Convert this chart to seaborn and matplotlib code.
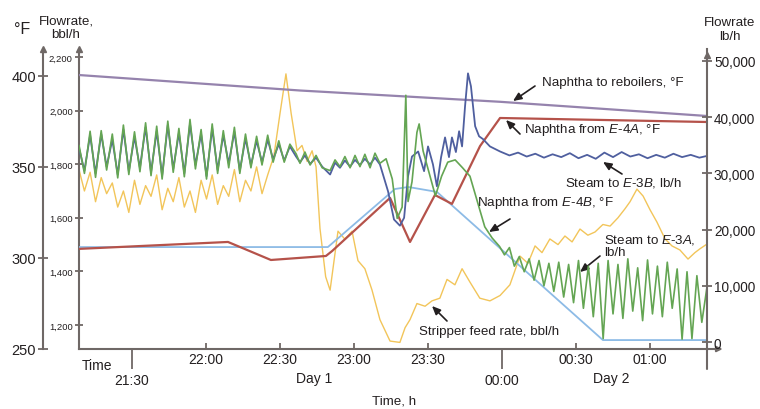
import matplotlib
matplotlib.use('Agg')
import matplotlib.pyplot as plt
import matplotlib.transforms as mtransforms
import seaborn as sns
import pandas as pd

# ---------------- data (time in minutes after 21:00) ----------------
reb_t = [8.5, 98.1, 179.2, 263.1]
reb_F = [400.5, 392.0, 385.8, 378.0]

e4a_t = [8.5, 68.9, 86.3, 108.6, 111.1, 134.6, 142.7, 152.8, 159.7, 171.1, 179.2, 263.1]
e4a_F = [305.0, 308.8, 298.9, 301.1, 303.8, 333.0, 308.8, 334.6, 329.7, 361.5, 376.9, 374.7]

e4b_t = [8.5, 109.4, 136.6, 142.0, 153.6, 220.9, 263.1]
e4b_F = [306.0, 306.0, 337.9, 339.0, 336.3, 254.9, 254.9]

osc_t = [8.5, 10.7, 13.0, 15.2, 17.5, 19.7, 22.0, 24.2, 26.5, 28.7, 31.0, 33.2, 35.5,
         37.7, 40.0, 42.2, 44.5, 46.7, 49.0, 51.2, 53.5, 55.7, 58.0, 60.2, 62.5, 64.7,
         67.0, 69.2, 71.5, 73.7, 76.0, 78.2, 80.5, 82.7, 85.0, 87.2, 89.5, 91.7, 94.0]

e3b_t = osc_t + [96.5, 98.1, 100.1, 102.2, 104.6, 107.1, 110.3, 112.3, 114.3, 116.3, 118.4,
                 120.4, 122.4, 124.4, 126.5, 128.5, 130.5, 133.8, 136.2, 138.6, 140.3, 141.9,
                 143.5, 146.0, 148.4, 150.0, 152.0, 153.6, 155.3, 156.9, 158.5, 159.7, 161.3,
                 162.6, 163.8, 165.0, 166.2, 167.4, 169.1, 170.7, 172.3, 175.1, 179.2, 183.0,
                 186.5, 190.0, 193.5, 197.0, 200.5, 204.0, 207.5, 211.0, 214.5, 218.0, 221.5,
                 225.0, 228.5, 232.0, 235.5, 239.0, 242.5, 246.0, 249.5, 253.0, 256.5, 260.0, 263.0]
e3b_lb = [34500, 30500, 36800, 30000, 37000, 31200, 36000, 29800, 37800, 30400, 36500, 31000,
          38200, 30200, 37500, 29600, 38600, 30800, 37200, 30000, 38800, 31500, 37000, 29500,
          38000, 30600, 36800, 31800, 37400, 30500, 36200, 31500, 35800, 32000, 36000, 32500,
          35200, 32300, 34800,
          33000, 32000, 33200, 31700, 32800, 31200, 29800, 31900, 31000, 32300, 31200,
          32400, 31500, 32600, 31600, 32800, 31600, 26800, 21800, 20700, 22100, 29500,
          33000, 33900, 30400, 34800, 31600, 27700, 32900, 36400, 32900, 36400, 33800,
          37500, 34800, 41900, 47800, 45500, 38400, 36600, 36100, 34800, 33900, 33200,
          33700, 33000, 33500, 32800, 33400, 32900, 33600, 32700, 33300, 32600, 33700,
          32900, 33800, 33000, 33400, 32700, 33300, 32800, 33500, 32900, 33300, 32800, 33100]

e3a_t = osc_t + [96.5, 98.1, 100.1, 102.2, 104.6, 107.1, 110.3, 112.3, 114.3, 116.3, 118.4,
                 120.4, 122.4, 124.4, 126.5, 128.5, 130.5, 133.0, 135.5, 137.5, 139.5, 141.0,
                 141.9, 143.5, 145.5, 146.4, 148.0, 150.5, 153.0, 155.5, 158.0, 161.0, 164.0,
                 167.0, 170.0, 173.0, 176.0, 179.0, 181.0, 183.0, 185.0, 187.0, 189.0, 191.0,
                 193.0, 195.0, 197.0, 199.0, 201.0, 203.0, 205.0, 207.0, 209.0, 211.0, 213.0,
                 215.0, 217.0, 219.0, 221.0, 223.0, 225.0, 227.0, 229.0, 231.0, 233.0, 235.0,
                 237.0, 239.0, 241.0, 243.0, 245.0, 247.0, 249.0, 251.0, 253.0, 255.0, 257.0,
                 259.0, 261.0, 263.0]
e3a_lb = [35000, 30000, 37500, 29300, 37600, 30600, 37000, 29200, 38600, 29800, 37400, 30300,
          39000, 29600, 38400, 29000, 39300, 30200, 38000, 29400, 39600, 30800, 37800, 29000,
          38800, 30000, 37600, 31000, 38200, 30000, 37000, 31000, 36600, 31500, 36800, 32000,
          35800, 32000, 35200,
          33500, 31800, 33800, 31500, 33200, 31000, 30500, 32400, 31200, 33000, 31000,
          33200, 31200, 33400, 31000, 33600, 31800, 32600, 29000, 22000, 24000, 43900,
          25000, 28500, 37300, 38800, 34000, 30000, 26000, 29500, 32000, 32400, 31000,
          29500, 25000, 20500, 18500, 17000, 15500, 16800, 13500, 15200, 12500, 14800,
          11000, 14500, 10000, 14000, 9000, 14200, 8000, 13800, 7000, 14500, 6000,
          13500, 4500, 14000, 600, 14500, 5000, 13800, 4200, 14800, 5500, 13200,
          3800, 14600, 5000, 13500, 4500, 14200, 6000, 13000, 500, 12500, 600,
          11800, 3500, 9500]

feed_t = osc_t[:35] + [87.5, 90.0, 92.4, 94.5, 96.9, 98.9, 101.0, 103.0, 104.6, 106.2, 108.5,
                       110.3, 113.5, 116.3, 119.2, 121.6, 124.4, 127.3, 130.5, 134.6, 138.6,
                       140.7, 142.7, 145.5, 148.8, 151.6, 154.8, 157.7, 160.9, 163.8, 167.0,
                       171.0, 175.1, 179.2, 183.2, 187.3, 190.5, 193.4, 196.2, 199.4, 202.7,
                       205.5, 208.4, 211.6, 214.8, 217.7, 220.9, 223.8, 227.0, 229.8, 231.9,
                       234.7, 237.2, 240.0, 242.8, 246.1, 248.9, 252.1, 255.4, 258.2, 260.2, 263.1]
feed_bbl = [1780, 1700, 1770, 1660, 1750, 1690, 1730, 1640, 1700, 1620, 1740, 1650, 1720, 1680,
            1760, 1630, 1710, 1660, 1750, 1640, 1700, 1620, 1740, 1670, 1760, 1650, 1720, 1680,
            1780, 1660, 1740, 1700, 1790, 1690, 1760,
            1830, 1990, 2137, 1990, 1850, 1870, 1810, 1850, 1790, 1560, 1380,
            1330, 1550, 1520, 1550, 1440, 1410, 1330, 1220, 1140, 1135,
            1190, 1220, 1280, 1270, 1290, 1300, 1370, 1350, 1410, 1360,
            1300, 1290, 1310, 1350, 1457, 1430, 1495, 1470, 1521, 1500,
            1532, 1510, 1558, 1535, 1547, 1575, 1569, 1600, 1633, 1660,
            1707, 1681, 1630, 1584, 1521, 1495, 1480, 1446, 1470, 1484, 1502]

tick_min = [60, 90, 120, 150, 210, 240]
tick_lab = ['22:00', '22:30', '23:00', '23:30', '00:30', '01:00']
low_min = [30, 180]
low_lab = ['21:30', '00:00']
F_ticks = [250, 300, 350, 400]
bbl_ticks = [1200, 1400, 1600, 1800, 2000, 2200]
lb_ticks = [0, 10000, 20000, 30000, 40000, 50000]

# ---------------- style ----------------
sns.set_style('white')
plt.rcParams['font.family'] = ['Liberation Sans', 'DejaVu Sans']
plt.rcParams['mathtext.fontset'] = 'custom'
plt.rcParams['mathtext.rm'] = 'Liberation Sans'
plt.rcParams['mathtext.it'] = 'Liberation Sans:italic'
plt.rcParams['mathtext.bf'] = 'Liberation Sans:bold'
txt = '#231f20'
spc = '#6f6866'
ann_fs = 9.6

fig = plt.figure(figsize=(7.6, 4.1), dpi=100)
ax = fig.add_axes([79/760, 60/410, 628/760, 300/410])
axF = ax.twinx()
axL = ax.twinx()

# lines
sns.lineplot(x=feed_t, y=feed_bbl, ax=ax, color='#f2c55a', lw=1.0, estimator=None, sort=False)
sns.lineplot(x=e4b_t, y=e4b_F, ax=axF, color='#8dbbe6', lw=1.3, estimator=None, sort=False)
sns.lineplot(x=e4a_t, y=e4a_F, ax=axF, color='#b5524a', lw=1.6, estimator=None, sort=False)
sns.lineplot(x=reb_t, y=reb_F, ax=axF, color='#9583ad', lw=1.6, estimator=None, sort=False)
sns.lineplot(x=e3b_t, y=e3b_lb, ax=axL, color='#4f5f9f', lw=1.3, estimator=None, sort=False)
sns.lineplot(x=e3a_t, y=e3a_lb, ax=axL, color='#64a553', lw=1.2, estimator=None, sort=False)

ax.set_xlim(8.5, 263.1)
ax.set_ylim(1110.4, 2229.8)
axF.set_ylim(250, 414.8)
axL.set_ylim(-1245, 52135)

for a in (ax, axF, axL):
    a.set_xlabel('')
    a.set_ylabel('')
    for s in a.spines.values():
        s.set_visible(False)
        s.set_color(spc)
        s.set_linewidth(1.5)

ax.spines['left'].set_visible(True)
ax.spines['bottom'].set_visible(True)
axL.spines['right'].set_visible(True)
axF.spines['left'].set_visible(True)
axF.spines['left'].set_position(('outward', 36 * 72 / 100))
axF.yaxis.tick_left()

ax.set_yticks(bbl_ticks, labels=[f'{v:,}' for v in bbl_ticks])
axF.set_yticks(F_ticks, labels=[str(v) for v in F_ticks])
axL.set_yticks(lb_ticks, labels=[f'{v:,}' for v in lb_ticks])

ax.tick_params(axis='y', direction='inout', length=6, width=1.3, color=spc,
               labelsize=6.8, pad=1.5, labelcolor=txt)
axF.tick_params(axis='y', direction='inout', length=7, width=1.3, color=spc,
                labelsize=10.5, pad=1.5, labelcolor=txt)
axL.tick_params(axis='y', direction='inout', length=7, width=1.3, color=spc,
                labelsize=9.8, pad=1.5, labelcolor=txt)

ax.set_xticks(tick_min, labels=tick_lab)
ax.set_xticks(low_min, labels=low_lab, minor=True)
ax.tick_params(axis='x', which='major', direction='in', length=4, width=1.3, color=spc,
               labelsize=10, pad=2, labelcolor=txt, bottom=True)
ax.tick_params(axis='x', which='minor', direction='out', length=14.5, width=1.3, color=spc,
               labelsize=10, pad=3, labelcolor=txt, bottom=True)
for a in (axF, axL):
    a.tick_params(axis='x', bottom=False, labelbottom=False)

# spine arrowheads and extensions
ax.plot([0], [1.0], marker='^', ms=5, color=spc, transform=ax.transAxes, clip_on=False)
offF = ax.transAxes + mtransforms.ScaledTranslation(-36/100, 0, fig.dpi_scale_trans)
ax.plot([0], [1.0], marker='^', ms=5, color=spc, transform=offF, clip_on=False)
ax.plot([1], [0.98], marker='^', ms=5, color=spc, transform=ax.transAxes, clip_on=False)
ax.plot([1, 1], [0, -20/300], color=spc, lw=1.5, transform=ax.transAxes, clip_on=False)
ax.annotate('', xy=(1.025, 0), xytext=(0.999, 0), xycoords='axes fraction',
            arrowprops=dict(arrowstyle='-|>', color=spc, lw=1.5, mutation_scale=8,
                            shrinkA=0, shrinkB=0))

def P(x, y):
    return (x / 760, 1 - y / 410)

# axis titles
fig.text(*P(22, 30), '°F', ha='center', va='center', fontsize=11.5, color=txt)
fig.text(*P(66, 28), 'Flowrate,\nbbl/h', ha='center', va='center', fontsize=9.6,
         color=txt, linespacing=1.2)
fig.text(*P(730, 30), 'Flowrate\nlb/h', ha='center', va='center', fontsize=9.6,
         color=txt, linespacing=1.2)
fig.text(*P(82, 366), 'Time', ha='left', va='center', fontsize=10, color=txt)
fig.text(*P(314, 379), 'Day 1', ha='center', va='center', fontsize=10, color=txt)
fig.text(*P(611, 379), 'Day 2', ha='center', va='center', fontsize=10, color=txt)
fig.text(*P(394, 402), 'Time, h', ha='center', va='center', fontsize=9.6, color=txt)

# annotations
labels = [
    ('Naphtha to reboilers, °F', (542, 83), (535, 87), (513, 102)),
    (r'Naphtha from $\mathit{E}$-$\mathit{4A}$, °F', (524, 130), (520, 135), (506, 121)),
    (r'Steam to $\mathit{E}$-$\mathit{3B}$, lb/h', (565, 183), (622, 175), (603, 163)),
    (r'Naphtha from $\mathit{E}$-$\mathit{4B}$, °F', (477, 203), (510, 220), (489, 233)),
    (r'Steam to $\mathit{E}$-$\mathit{3A}$,' + '\nlb/h', (604, 246), (600, 257), (580, 273)),
    ('Stripper feed rate, bbl/h', (419, 332), (447, 322), (432, 307)),
]
for s, tp, tail, tip in labels:
    fig.text(*P(*tp), s, ha='left', va='center', fontsize=ann_fs, color=txt, linespacing=1.1)
    ax.annotate('', xy=P(*tip), xytext=P(*tail), xycoords='figure fraction',
                arrowprops=dict(arrowstyle='-|>,head_length=0.5,head_width=0.22',
                                color=txt, lw=1.2, mutation_scale=10, shrinkA=0, shrinkB=0))

fig.savefig('out.png', dpi=100)
